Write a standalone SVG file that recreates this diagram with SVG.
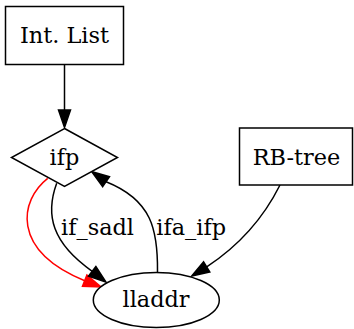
<svg xmlns="http://www.w3.org/2000/svg" width="354" height="329" viewBox="0 0 354 329">
<style>
.node{fill:#fff;stroke:#000;stroke-width:1.5}
.edge{fill:none;stroke:#000;stroke-width:1.5}
.head{fill:#000;stroke:#000;stroke-width:1.5}
.red{stroke:#f00}
.redh{fill:#f00;stroke:#f00}
text{font-family:"DejaVu Serif","Liberation Serif",serif;font-size:22.4px;text-anchor:middle;fill:#000}
</style>
<rect width="354" height="329" fill="#fff"/>
<g id="connectors">
  <g id="e-intlist-ifp">
    <path class="edge" d="M64.5,65 L64.5,110"/>
    <polygon class="head" points="58.5,110 70.5,110 64.5,127.5"/>
  </g>
  <g id="e-ifp-lladdr-red">
    <path class="edge red" d="M47.7,178.3 C20,200 10,250 84.7,280.7"/>
    <polygon class="head redh" points="86.9,275.1 82.5,286.3 101,287"/>
  </g>
  <g id="e-ifp-lladdr-sadl">
    <path class="edge" d="M56.7,183.3 C45,215 52,243 92.2,271.3"/>
    <polygon class="head" points="95.9,266.5 88.5,276.1 106,282"/>
    <text x="97.5" y="235">if_sadl</text>
  </g>
  <g id="e-lladdr-ifp">
    <path class="edge" d="M157.5,272 C158,230 152,200 106.1,181.7"/>
    <polygon class="head" points="102.7,186.6 109.5,176.8 91.7,171.7"/>
    <text x="191.2" y="235">ifa_ifp</text>
  </g>
  <g id="e-rbtree-lladdr">
    <path class="edge" d="M280,185 C265,215 240,245 206.7,266.9"/>
    <polygon class="head" points="203.6,261.8 209.8,272.0 191.7,276"/>
  </g>
</g>
<g id="intlist">
  <rect class="node" x="5.5" y="6.5" width="118" height="58"/>
  <text x="64.5" y="42.5">Int. List</text>
</g>
<g id="ifp">
  <polygon class="node" points="64.5,128.5 117.5,157.5 64.5,186.5 11.5,157.5"/>
  <text x="64.5" y="165">ifp</text>
</g>
<g id="rbtree">
  <rect class="node" x="239.5" y="128" width="113" height="57"/>
  <text x="296.5" y="165">RB-tree</text>
</g>
<g id="lladdr">
  <ellipse class="node" cx="156.3" cy="300" rx="63" ry="27.5"/>
  <text x="156" y="306.7">lladdr</text>
</g>
</svg>
